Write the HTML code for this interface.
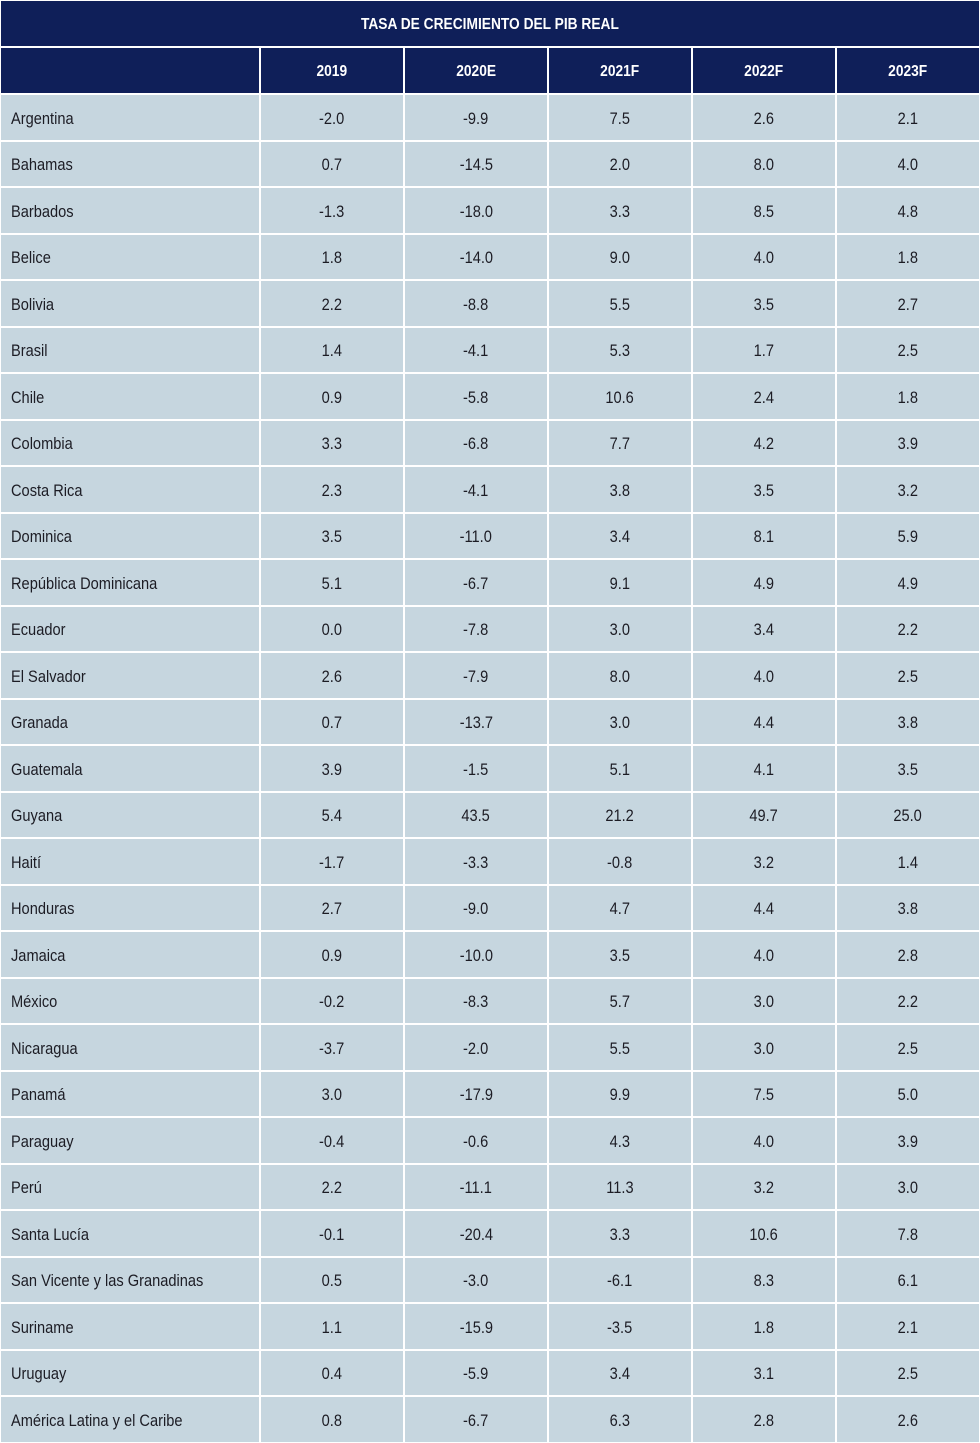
<!DOCTYPE html>
<html><head><meta charset="utf-8"><style>
body{margin:0;width:980px;height:1443px;background:#fff;overflow:hidden;font-family:"Liberation Sans",sans-serif;}
#t{position:relative;width:980px;height:1443px;}
.c{position:absolute;box-sizing:border-box;display:flex;align-items:center;justify-content:center;font-size:17px;color:#1c1c24;background:#c6d6df;padding-top:2px;}
.c span{display:inline-block;transform:scaleX(0.86);white-space:nowrap;}
.l span{transform-origin:left center;}
.h{background:#0f1f59;color:#fff;font-weight:bold;font-size:16px;}
.l{justify-content:flex-start;padding-left:10px;}
</style></head><body>
<div id="t"></div>
<script>
const years=["2019","2020E","2021F","2022F","2023F"];
const countries=["Argentina","Bahamas","Barbados","Belice","Bolivia","Brasil","Chile","Colombia","Costa Rica","Dominica","República Dominicana","Ecuador","El Salvador","Granada","Guatemala","Guyana","Haití","Honduras","Jamaica","México","Nicaragua","Panamá","Paraguay","Perú","Santa Lucía","San Vicente y las Granadinas","Suriname","Uruguay","América Latina y el Caribe"];
const v2019=["-2.0","0.7","-1.3","1.8","2.2","1.4","0.9","3.3","2.3","3.5","5.1","0.0","2.6","0.7","3.9","5.4","-1.7","2.7","0.9","-0.2","-3.7","3.0","-0.4","2.2","-0.1","0.5","1.1","0.4","0.8"];
const v2020=["-9.9","-14.5","-18.0","-14.0","-8.8","-4.1","-5.8","-6.8","-4.1","-11.0","-6.7","-7.8","-7.9","-13.7","-1.5","43.5","-3.3","-9.0","-10.0","-8.3","-2.0","-17.9","-0.6","-11.1","-20.4","-3.0","-15.9","-5.9","-6.7"];
const v2021=["7.5","2.0","3.3","9.0","5.5","5.3","10.6","7.7","3.8","3.4","9.1","3.0","8.0","3.0","5.1","21.2","-0.8","4.7","3.5","5.7","5.5","9.9","4.3","11.3","3.3","-6.1","-3.5","3.4","6.3"];
const v2022=["2.6","8.0","8.5","4.0","3.5","1.7","2.4","4.2","3.5","8.1","4.9","3.4","4.0","4.4","4.1","49.7","3.2","4.4","4.0","3.0","3.0","7.5","4.0","3.2","10.6","8.3","1.8","3.1","2.8"];
const v2023=["2.1","4.0","4.8","1.8","2.7","2.5","1.8","3.9","3.2","5.9","4.9","2.2","2.5","3.8","3.5","25.0","1.4","3.8","2.8","2.2","2.5","5.0","3.9","3.0","7.8","6.1","2.1","2.5","2.6"];
const cols=[v2019,v2020,v2021,v2022,v2023];
const t=document.getElementById('t');
const xs=[0,260,404,548,692,836,980];
function cell(x,y,w,h,txt,cls,name){const d=document.createElement('div');d.className='c '+cls;
d.style.left=x+'px';d.style.top=y+'px';d.style.width=w+'px';d.style.height=h+'px';
const s=document.createElement('span');s.textContent=txt;d.appendChild(s);


t.appendChild(d);}
cell(1,1,978,45,"TASA DE CRECIMIENTO DEL PIB REAL","h","table-title");
cell(1,48,xs[1]-2,45,"","h","header-blank");
years.forEach((y,j)=>cell(xs[j+1]+1,48,xs[j+2]-xs[j+1]-2,45,y,"h","header-"+y));
const top0=94,rh=(1443-94)/countries.length;
countries.forEach((c,i)=>{
 const y=Math.round(top0+i*rh),y2=Math.round(top0+(i+1)*rh);
 cell(1,y+1,xs[1]-2,y2-y-2,c,"l","country-label");
 cols.forEach((arr,j)=>cell(xs[j+1]+1,y+1,xs[j+2]-xs[j+1]-2,y2-y-2,arr[i],"","value-cell"));
});
</script>
</body></html>
